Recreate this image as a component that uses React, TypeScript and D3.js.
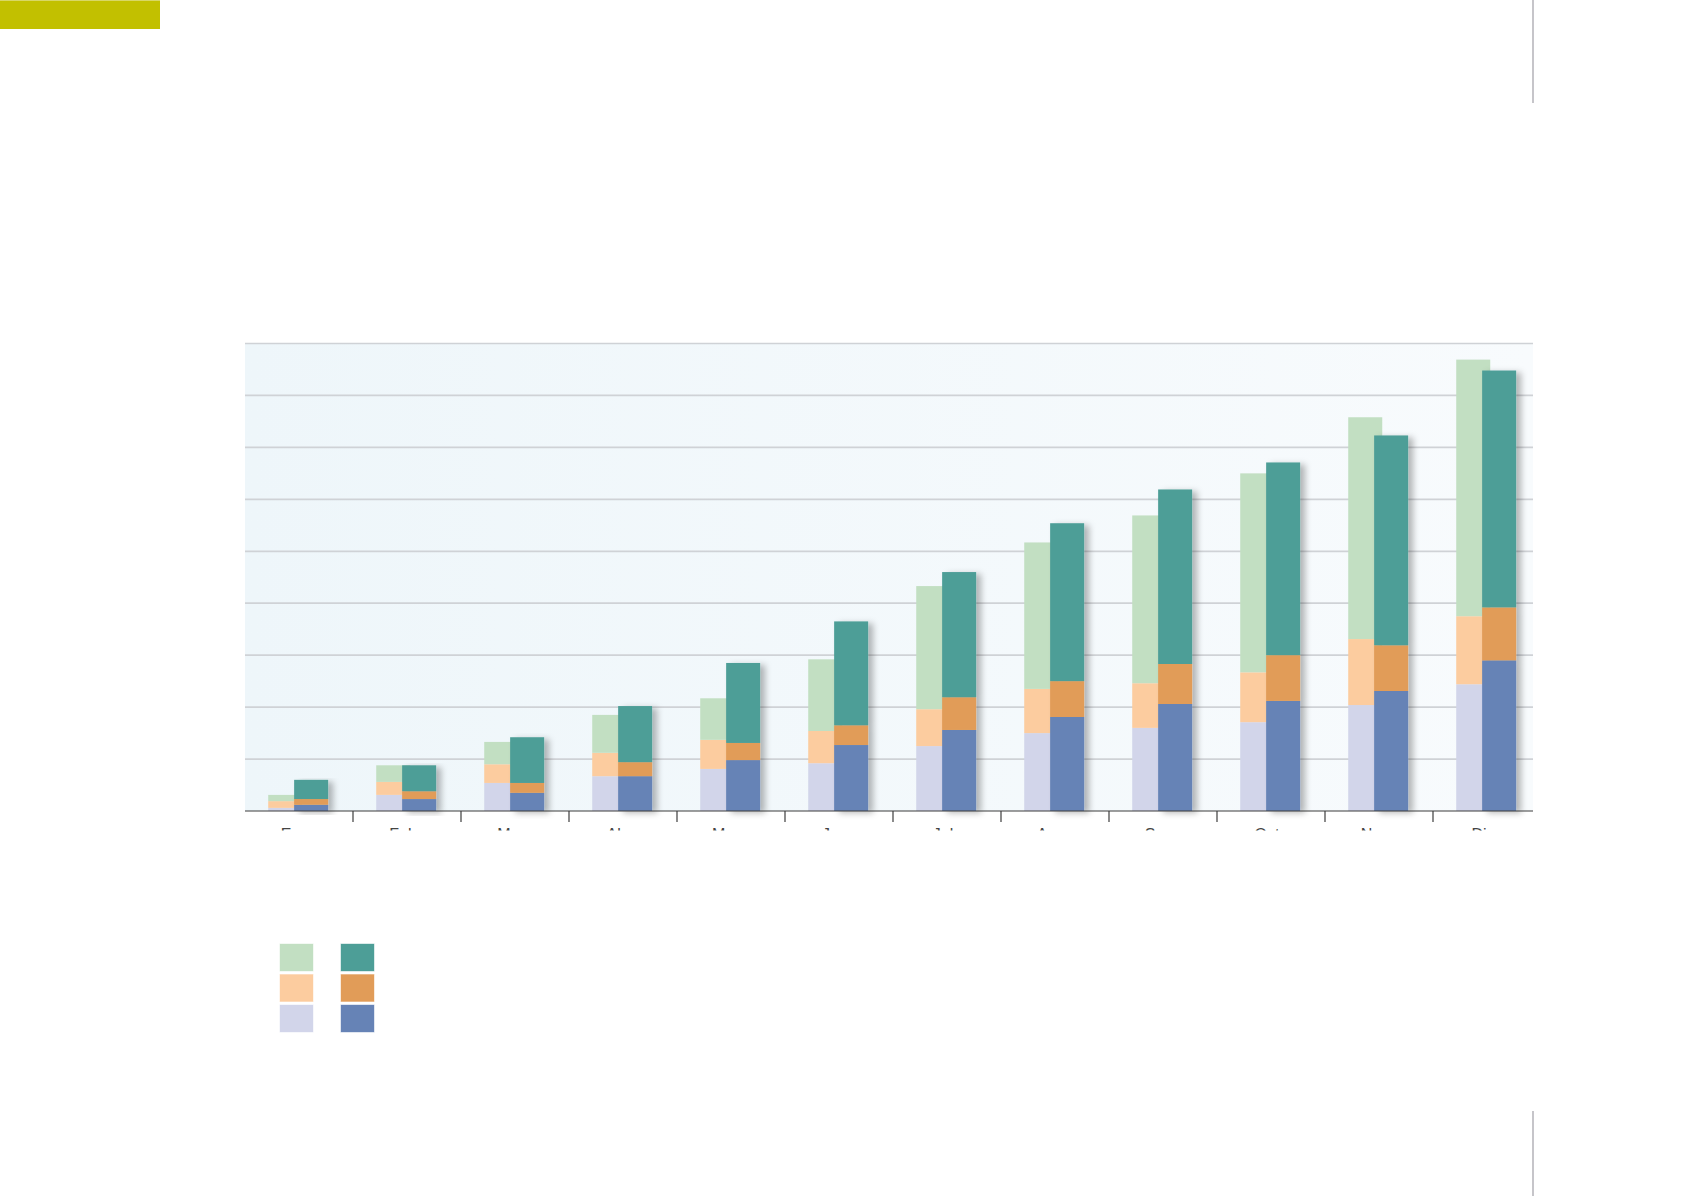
import React from 'react';
import * as d3 from 'd3';

// meses (etiquetas del eje x)
const months = ['Ene', 'Feb', 'Mar', 'Abr', 'May', 'Jun', 'Jul', 'Ago', 'Sep', 'Oct', 'Nov', 'Dic'];

// barra clara (izquierda): segmentos de abajo hacia arriba
const lightBottom = [6, 31, 54, 67, 81, 92, 125, 150, 160, 171, 204, 244];
const lightMiddle = [13, 25, 36, 45, 56, 62, 71, 85, 86, 96, 127, 131];
const lightTop = [12, 32, 43, 73, 80, 138, 237, 282, 323, 383, 427, 494];

// barra oscura (derecha)
const darkBottom = [12, 23, 35, 67, 98, 127, 156, 181, 206, 212, 231, 290];
const darkMiddle = [11, 15, 19, 27, 33, 38, 63, 69, 77, 88, 88, 102];
const darkTop = [37, 50, 88, 108, 154, 200, 241, 304, 336, 371, 404, 456];

const gridTicks = [0, 100, 200, 300, 400, 500, 600, 700, 800, 900];

const lightColors = ['#d2d5ea', '#fccc9f', '#c2dfc2'];
const darkColors = ['#6683b6', '#e19c58', '#4d9e97'];

const W = 1692;
const H = 1196;
const left = 245;
const plotRight = 1533;
const top = 343.5;
const bottom = 811;

function App() {
    const x = d3.scaleBand<string>().domain(months).range([left, left + 108 * 12]);
    const y = d3.scaleLinear().domain([0, 900]).range([bottom, top]);
    const bw = x.bandwidth();
    const barW = bw * 0.315;

    const stack = d3.stack<number>().keys(['0', '1', '2']);
    const lightRows = months.map((_, i) => ({ '0': lightBottom[i], '1': lightMiddle[i], '2': lightTop[i] }));
    const darkRows = months.map((_, i) => ({ '0': darkBottom[i], '1': darkMiddle[i], '2': darkTop[i] }));
    const lightSeries = stack(lightRows as any);
    const darkSeries = stack(darkRows as any);

    return (
        <svg width={W} height={H} style={{ position: 'absolute', left: 0, top: 0 }}>
            <defs>
                <linearGradient id="bg" x1="0" y1="0" x2="1" y2="0">
                    <stop offset="0%" stopColor="#eef6fa" />
                    <stop offset="100%" stopColor="#f8fbfd" />
                </linearGradient>
                <filter id="shadow" x="-20%" y="-5%" width="160%" height="115%">
                    <feDropShadow dx="5" dy="2" stdDeviation="3" floodColor="#000" floodOpacity="0.28" />
                </filter>
                <clipPath id="labelClip">
                    <rect x={0} y={0} width={W} height={830.5} />
                </clipPath>
            </defs>

            {/* bloque amarillo superior */}
            <rect x={0} y={0} width={160} height={29} fill="#c2c000" />
            <rect x={0} y={0} width={160} height={1} fill="#d8d766" />

            {/* líneas verticales del margen */}
            <line x1={1533} x2={1533} y1={0} y2={103} stroke="#c0bfc4" strokeWidth={1.8} />
            <line x1={1533} x2={1533} y1={1111} y2={H} stroke="#c0bfc4" strokeWidth={1.8} />

            {/* fondo del gráfico */}
            <rect x={left} y={top} width={plotRight - left} height={bottom - top} fill="url(#bg)" />

            {gridTicks.slice(1).map(t => (
                <line key={t} x1={left} x2={plotRight} y1={y(t)} y2={y(t)} stroke="#cfd2d6" strokeWidth={1.7} />
            ))}

            {/* barras claras */}
            {lightSeries.map((s, k) => (
                <g key={'l' + k} fill={lightColors[k]}>
                    {s.map((d, i) => (
                        <rect key={i} x={x(months[i])! + bw * 0.215} y={y(d[1])} width={barW}
                            height={y(d[0]) - y(d[1])} />
                    ))}
                </g>
            ))}

            {/* barras oscuras con sombra */}
            {months.map((m, i) => (
                <g key={'d' + m} filter="url(#shadow)">
                    {darkSeries.map((s, k) => (
                        <rect key={k} x={x(m)! + bw * 0.455} y={y(s[i][1])} width={barW}
                            height={y(s[i][0]) - y(s[i][1])} fill={darkColors[k]} />
                    ))}
                </g>
            ))}

            {/* eje x */}
            <line x1={left} x2={plotRight} y1={bottom} y2={bottom} stroke="#3d3d3d" strokeWidth={1.2} />
            {months.slice(1).map(m => (
                <line key={m} x1={x(m)!} x2={x(m)!} y1={bottom} y2={822} stroke="#3d3d3d" strokeWidth={1.2} />
            ))}
            <g clipPath="url(#labelClip)">
                {months.map(m => (
                    <text key={m} x={x(m)! + bw / 2 - 4} y={839.5} textAnchor="middle" fontSize={16}
                        fontFamily="Liberation Sans, Arial, sans-serif" fill="#444">{m}</text>
                ))}
            </g>

            {/* leyenda */}
            {[2, 1, 0].map((k, row) => (
                <g key={'leg' + k}>
                    <rect x={279.5} y={943.5 + row * 30.5} width={34} height={28} fill={lightColors[k]}
                        stroke="#fff" strokeOpacity={0.6} />
                    <rect x={340.5} y={943.5 + row * 30.5} width={34} height={28} fill={darkColors[k]}
                        stroke="#fff" strokeOpacity={0.6} />
                </g>
            ))}
        </svg>
    );
}

export default App;
